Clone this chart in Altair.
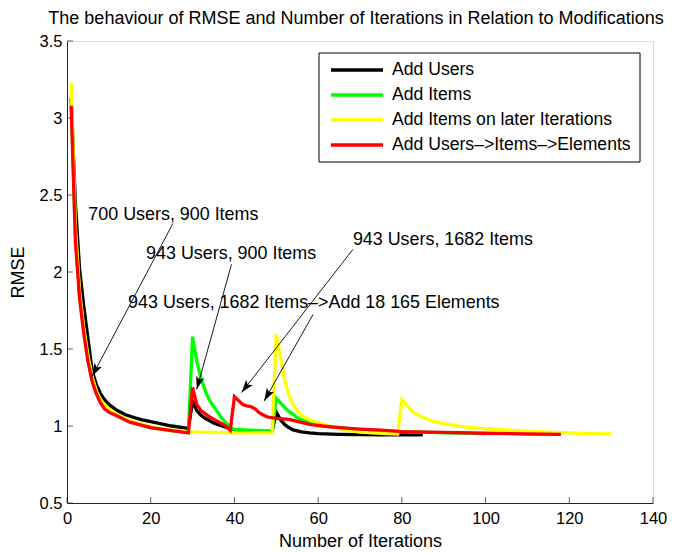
import math
import altair as alt
import pandas as pd

# ---------------- data ----------------
series_names = ["Add Users", "Add Items", "Add Items on later Iterations",
                "Add Users\u2013>Items\u2013>Elements"]
series_colors = ["#000000", "#00ff00", "#ffff00", "#ff0000"]

users_x = [1, 2, 3, 4, 5, 6, 7, 8, 9, 10, 12, 14, 16, 18, 20, 22, 25, 29,
           30, 31, 32, 33, 34, 35, 37, 39, 41, 45, 49,
           50, 51, 52, 53, 54, 56, 58, 60, 65, 70, 75, 80, 85]
users_y = [3.13, 2.45, 2.02, 1.78, 1.57, 1.36, 1.27, 1.21, 1.17, 1.14, 1.10, 1.073, 1.055, 1.04, 1.028, 1.017, 1.0, 0.985,
           1.16, 1.10, 1.07, 1.05, 1.035, 1.02, 1.0, 0.982, 0.972, 0.968, 0.965,
           1.09, 1.04, 1.01, 0.99, 0.975, 0.962, 0.955, 0.95, 0.946, 0.944, 0.943, 0.942, 0.942]

items_x = [1, 2, 3, 4, 5, 6, 7, 8, 10, 12, 15, 20, 25, 29,
           30, 31, 32, 33, 34, 35, 36, 37, 38, 39, 40, 45, 49,
           50, 51, 52, 53, 54, 55, 56, 58, 60, 65, 70, 80, 90, 100]
items_y = [3.12, 2.25, 1.85, 1.62, 1.44, 1.30, 1.22, 1.16, 1.105, 1.07, 1.03, 0.99, 0.97, 0.96,
           1.58, 1.42, 1.31, 1.23, 1.17, 1.13, 1.09, 1.05, 1.02, 0.99, 0.978, 0.972, 0.968,
           1.18, 1.15, 1.12, 1.095, 1.075, 1.055, 1.04, 1.022, 1.008, 0.99, 0.978, 0.963, 0.956, 0.951]

later_x = [1, 2, 3, 4, 5, 6, 7, 8, 10, 12, 15, 20, 25, 29, 35, 40, 45, 49,
           50, 51, 52, 53, 54, 55, 56, 58, 60, 63, 66, 70, 75, 79,
           80, 81, 82, 83, 85, 87, 90, 95, 100, 105, 110, 115, 120, 125, 130]
later_y = [3.23, 2.30, 1.88, 1.64, 1.46, 1.32, 1.23, 1.17, 1.11, 1.075, 1.035, 0.995, 0.975, 0.962, 0.958, 0.956, 0.955, 0.955,
           1.595, 1.45, 1.30, 1.20, 1.14, 1.10, 1.07, 1.04, 1.02, 1.0, 0.975, 0.96, 0.952, 0.948,
           1.17, 1.14, 1.11, 1.085, 1.055, 1.035, 1.015, 0.995, 0.982, 0.974, 0.966, 0.96, 0.955, 0.95, 0.948]

mixed_x = [1, 2, 3, 4, 5, 6, 7, 8, 9, 10, 12, 15, 20, 25, 29,
           30, 31, 32, 33, 34, 35, 36, 37, 38, 39,
           40, 41, 42, 43, 44, 45, 46, 47, 48, 50, 53, 55, 58, 61, 65, 70, 75, 80, 90, 100, 110, 118]
mixed_y = [3.08, 2.20, 1.83, 1.60, 1.42, 1.29, 1.21, 1.15, 1.11, 1.09, 1.065, 1.025, 0.99, 0.97, 0.956,
           1.25, 1.14, 1.10, 1.08, 1.06, 1.045, 1.03, 1.015, 0.998, 0.972,
           1.19, 1.165, 1.14, 1.13, 1.125, 1.11, 1.085, 1.07, 1.058, 1.05, 1.043, 1.03, 1.011, 1.0, 0.99, 0.98, 0.973, 0.963, 0.958, 0.953, 0.948, 0.945]

x_ticks = [0, 20, 40, 60, 80, 100, 120, 140]
y_ticks = [0.5, 1, 1.5, 2, 2.5, 3, 3.5]

ann_text = ["700 Users, 900 Items", "943 Users, 900 Items",
            "943 Users, 1682 Items", "943 Users, 1682 Items\u2013>Add 18 165 Elements"]
ann_text_x = [5.1, 18.9, 68.3, 14.6]
ann_text_y = [2.37, 2.115, 2.206, 1.797]
arrow_x0 = [25.3, 39.3, 68.3, 58.8]
arrow_y0 = [2.315, 2.05, 2.147, 1.725]
arrow_x1 = [6.0, 31.0, 41.7, 47.1]
arrow_y1 = [1.323, 1.238, 1.217, 1.162]

title_text = "The behaviour of RMSE and Number of Iterations in Relation to Modifications"

# ---------------- layout / style ----------------
W, H = 586, 462
X_DOM = [0, 140]
Y_DOM = [0.5, 3.5]
FONT = "Liberation Sans"
AX_COLOR = "#262626"

xs = alt.Scale(domain=X_DOM, nice=False, zero=False)
ys = alt.Scale(domain=Y_DOM, nice=False, zero=False)

xaxis = alt.Axis(values=x_ticks, title="Number of Iterations", tickSize=0, grid=False,
                 labelFont=FONT, labelFontSize=16.5, labelColor="black", labelPadding=7,
                 labelFlush=False, labelOverlap=False,
                 domainColor=AX_COLOR, domainWidth=1,
                 titleFont=FONT, titleFontSize=18, titleFontWeight="normal", titleColor="black",
                 titleX=W / 2, titleY=38, titleAlign="center", titleBaseline="middle")
yaxis = alt.Axis(values=y_ticks, title="RMSE", tickSize=0, grid=False, format="~g",
                 labelFont=FONT, labelFontSize=16.5, labelColor="black", labelPadding=5,
                 labelFlush=False, labelOverlap=False,
                 domainColor=AX_COLOR, domainWidth=1,
                 titleFont=FONT, titleFontSize=18, titleFontWeight="normal", titleColor="black",
                 titleAngle=270, titleX=-49, titleY=H / 2, titleAlign="center", titleBaseline="middle")

X = lambda f: alt.X(f, type="quantitative", scale=xs, axis=xaxis)
Y = lambda f: alt.Y(f, type="quantitative", scale=ys, axis=yaxis)

# inner ticks (MATLAB style)
xt = alt.Chart(pd.DataFrame({"v": x_ticks})).mark_tick(
    color=AX_COLOR, thickness=1, size=6, orient="vertical").encode(x=X("v"), y=alt.value(H - 3))
yt = alt.Chart(pd.DataFrame({"v": y_ticks})).mark_tick(
    color=AX_COLOR, thickness=1, size=6, orient="horizontal").encode(y=Y("v"), x=alt.value(3))

layers = [xt, yt]
for xv, yv, col in [(users_x, users_y, series_colors[0]), (items_x, items_y, series_colors[1]),
                    (later_x, later_y, series_colors[2]), (mixed_x, mixed_y, series_colors[3])]:
    df = pd.DataFrame({"x": xv, "y": yv})
    layers.append(alt.Chart(df).mark_line(color=col, strokeWidth=3.3).encode(x=X("x"), y=Y("y")))

# annotations
sx = W / (X_DOM[1] - X_DOM[0])
sy = H / (Y_DOM[1] - Y_DOM[0])
angles = []
for a, b, c, d in zip(arrow_x0, arrow_y0, arrow_x1, arrow_y1):
    dx = (c - a) * sx
    dy = -(d - b) * sy
    angles.append(math.degrees(math.atan2(dx, -dy)) % 360)
arr = pd.DataFrame({"x0": arrow_x0, "y0": arrow_y0, "x1": arrow_x1, "y1": arrow_y1, "ang": angles})
layers.append(alt.Chart(arr).mark_rule(color="black", strokeWidth=0.9).encode(
    x=X("x0"), y=Y("y0"), x2="x1", y2="y1"))
head = "M0,0 L-0.42,1.3 L0,1.0 L0.42,1.3 Z"
layers.append(alt.Chart(arr).mark_point(shape=head, filled=True, color="black", opacity=1,
                                        size=400, strokeWidth=0).encode(
    x=X("x1"), y=Y("y1"), angle=alt.Angle("ang:Q", scale=None)))
txt = pd.DataFrame({"t": ann_text, "x": ann_text_x, "y": ann_text_y})
layers.append(alt.Chart(txt).mark_text(align="left", baseline="middle", font=FONT, fontSize=17.9,
                                       color="black").encode(x=X("x"), y=Y("y"), text="t:N"))

# legend (drawn box like MATLAB)
LX0, LX1, LY0, LY1 = 252, 573, 12, 121
layers.append(alt.Chart(pd.DataFrame({"a": [0]})).mark_rect(
    fill="white", stroke="black", strokeWidth=1).encode(
    x=alt.value(LX0), x2=alt.value(LX1), y=alt.value(LY0), y2=alt.value(LY1)))
leg = pd.DataFrame({"name": series_names, "col": series_colors,
                    "ly": [29 + 25 * i for i in range(len(series_names))]})
layers.append(alt.Chart(leg).mark_rule(strokeWidth=3.3).encode(
    x=alt.value(264), x2=alt.value(316), y=alt.Y("ly:Q", scale=None),
    color=alt.Color("col:N", scale=None)))
layers.append(alt.Chart(leg).mark_text(align="left", baseline="middle", font=FONT, fontSize=17.6,
                                       color="black").encode(
    x=alt.value(325), y=alt.Y("ly:Q", scale=None), text="name:N"))

# title as text above plot area
layers.append(alt.Chart(pd.DataFrame({"t": [title_text]})).mark_text(
    align="center", baseline="middle", font=FONT, fontSize=18, color="black").encode(
    x=alt.value(W / 2 - 4), y=alt.value(-22), text="t:N"))

chart = alt.layer(*layers).properties(
    width=W, height=H,
    autosize=alt.AutoSizeParams(type="none"),
    padding={"left": 67, "top": 41, "right": 22, "bottom": 50},
).configure_view(stroke=None).configure(background="white")

chart.save("out.html", embed_options={"renderer": "svg", "actions": False})
